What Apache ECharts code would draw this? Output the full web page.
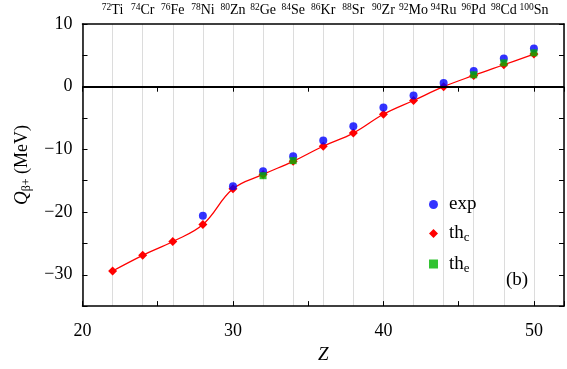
<!DOCTYPE html>
<html><head><meta charset="utf-8">
<script src="https://cdn.jsdelivr.net/npm/echarts@6/dist/echarts.min.js"></script>
<style>html,body{margin:0;padding:0;background:#fff}#c{width:567px;height:369px}</style>
</head><body><div id="c"></div>
<script>
// ---- data ----
const thcZ = [22,24,26,28,30,32,34,36,38,40,42,44,46,48,50];
const thcV = [-29.4,-26.9,-24.7,-22.0,-16.3,-14.0,-11.9,-9.5,-7.4,-4.4,-2.2,0.0,1.8,3.5,5.2];
const expZ = [28,30,32,34,36,38,40,42,44,46,48,50];
const expV = [-20.6,-15.9,-13.5,-11.1,-8.6,-6.3,-3.3,-1.4,0.6,2.5,4.5,6.1];
const theZ = [32,34,46,48,50];
const theV = [-14.2,-11.8,1.9,3.8,5.4];
const isoZ = [22,24,26,28,30,32,34,36,38,40,42,44,46,48,50];
const isoMass = [72,74,76,78,80,82,84,86,88,90,92,94,96,98,100];
const isoSym = ['Ti','Cr','Fe','Ni','Zn','Ge','Se','Kr','Sr','Zr','Mo','Ru','Pd','Cd','Sn'];
const xTickLabels = [20,30,40,50];
const yTickLabels = [10,0,-10,-20,-30];

const FF = '"Liberation Serif", "DejaVu Serif", serif';
const chart = echarts.init(document.getElementById('c'));
const pair = (xs, ys) => xs.map((x, i) => [x, ys[i]]);

chart.setOption({
  animation: false,
  backgroundColor: '#fff',
  grid: { left: 82.5, right: 2, top: 24, bottom: 56, containLabel: false },
  xAxis: [
    { type: 'value', position: 'bottom', min: 20, max: 52, interval: 5,
      name: 'Z', nameLocation: 'middle', nameGap: 34,
      nameTextStyle: { fontFamily: FF, fontSize: 19, fontStyle: 'italic', color: '#000' },
      axisLine: { show: true, onZero: false, lineStyle: { color: '#000', width: 1.5 } },
      axisTick: { show: true, inside: true, length: 5, lineStyle: { color: '#000' } },
      axisLabel: { margin: 16, fontFamily: FF, fontSize: 18, color: '#000',
        formatter: v => xTickLabels.includes(v) ? String(v) : '' },
      splitLine: { show: false } },
    { type: 'value', position: 'top', min: 20, max: 52, interval: 2,
      axisLine: { show: true, onZero: false, lineStyle: { color: '#000', width: 1.5 } },
      axisTick: { show: false },
      axisLabel: { interval: 0, margin: 5, fontFamily: FF, fontSize: 14, color: '#000',
        formatter: v => { const i = isoZ.indexOf(v); return i < 0 ? '' : '{s|' + isoMass[i] + '}' + isoSym[i]; },
        rich: { s: { fontFamily: FF, fontSize: 9.5, color: '#000', padding: [0,0,7,0] } } },
      splitLine: { show: true, lineStyle: { color: '#dcdcdc', width: 1 } } },
    { type: 'value', position: 'top', min: 20, max: 52, interval: 5,
      axisLine: { show: false },
      axisTick: { show: true, inside: true, length: 5, lineStyle: { color: '#000' } },
      axisLabel: { show: false }, splitLine: { show: false } }
  ],
  yAxis: [
    { type: 'value', position: 'left', min: -35, max: 10, interval: 5,
      name: '{q|Q}{s|β+} (MeV)', nameLocation: 'middle', nameGap: 50, nameRotate: 90,
      nameTextStyle: { fontFamily: FF, fontSize: 18, color: '#000',
        rich: { q: { fontFamily: FF, fontSize: 19, fontStyle: 'italic', color: '#000' },
                s: { fontFamily: FF, fontSize: 12, color: '#000', padding: [9,0,0,0] } } },
      axisLine: { show: true, onZero: false, lineStyle: { color: '#000', width: 1.5 } },
      axisTick: { show: true, inside: true, length: 5, lineStyle: { color: '#000' } },
      axisLabel: { margin: 10, fontFamily: FF, fontSize: 18, color: '#000',
        formatter: v => yTickLabels.includes(v) ? (v < 0 ? '\u2212' + (-v) : String(v)) : '' },
      splitLine: { show: false } },
    { type: 'value', position: 'right', min: -35, max: 10, interval: 5,
      axisLine: { show: true, onZero: false, lineStyle: { color: '#000', width: 1.5 } },
      axisTick: { show: true, inside: true, length: 5, lineStyle: { color: '#000' } },
      axisLabel: { show: false }, splitLine: { show: false } }
  ],
  legend: {
    orient: 'vertical', left: 424, top: 190, itemWidth: 9, itemHeight: 9, itemGap: 10,
    data: [ { name: 'exp', icon: 'circle' }, { name: 'th_c', icon: 'diamond' }, { name: 'th_e', icon: 'rect' } ],
    formatter: n => n === 'exp' ? 'exp' : 'th{sub|' + n.slice(3) + '}',
    textStyle: { fontFamily: FF, fontSize: 19, color: '#000', padding: [0,0,0,6],
      rich: { sub: { fontFamily: FF, fontSize: 13, color: '#000', padding: [9,0,0,0] } } }
  },
  graphic: [
    { type: 'text', left: 506, top: 271, style: { text: '(b)', fontFamily: FF, fontSize: 19, fill: '#000' } }
  ],
  series: [
    { name: 'th_c', type: 'line', xAxisIndex: 0, yAxisIndex: 0, data: pair(thcZ, thcV),
      smooth: 0.4, symbol: 'diamond', symbolSize: 9, showAllSymbol: true,
      lineStyle: { color: '#ff0000', width: 1.3 }, itemStyle: { color: '#ff0000' }, z: 3,
      markLine: { silent: true, symbol: 'none', label: { show: false },
        lineStyle: { color: '#000', width: 2, type: 'solid' }, data: [ { yAxis: 0 } ] } },
    { name: 'exp', type: 'scatter', xAxisIndex: 0, yAxisIndex: 0, data: pair(expZ, expV),
      symbol: 'circle', symbolSize: 8, itemStyle: { color: '#0000ff' }, z: 4 },
    { name: 'th_e', type: 'scatter', xAxisIndex: 0, yAxisIndex: 0, data: pair(theZ, theV),
      symbol: 'rect', symbolSize: 7, itemStyle: { color: '#00b400' }, z: 5 }
  ]
});
</script></body></html>
